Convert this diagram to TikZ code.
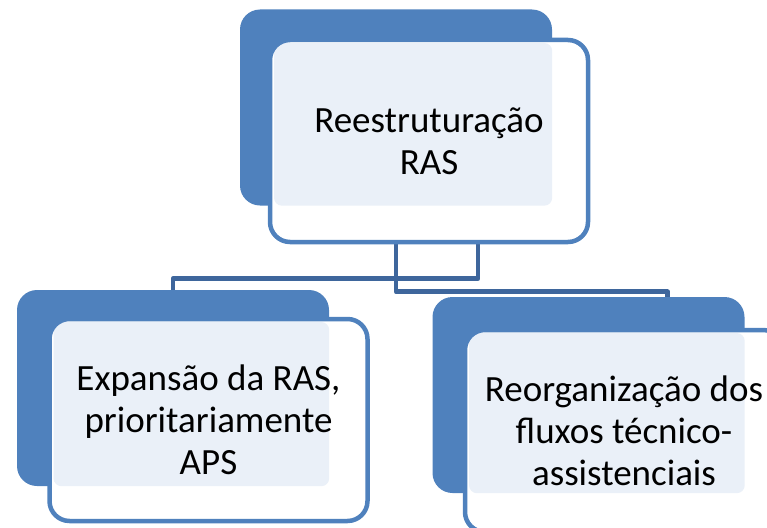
\documentclass[tikz,border=0pt]{standalone}
\usepackage{fontspec}
\setmainfont{Carlito}
\definecolor{boxblue}{RGB}{79,129,189}
\definecolor{linkblue}{RGB}{62,102,156}
\definecolor{dotfill}{RGB}{234,240,248}
\tikzset{
  backbox/.style={fill=boxblue, rounded corners=20pt, minimum width=312pt, minimum height=196pt, inner sep=0pt},
  frontbox/.style={draw=boxblue, line width=4.5pt, fill=white, rounded corners=20pt,
    minimum width=318pt, minimum height=202pt, inner sep=0pt, align=center,
    font=\fontsize{37}{42}\selectfont,
    path picture={\fill[dotfill, rounded corners=8pt] ([shift={(4pt,-3pt)}]path picture bounding box.north west) rectangle (#1.south east);}},
  link/.style={draw=linkblue, line width=4.5pt, line join=round}
}
\begin{document}
\begin{tikzpicture}[x=1pt, y=-1pt]
			\useasboundingbox (0,0) rectangle (767,527);
			\clip (0,0) rectangle (767,527);
			% back boxes
			\node[backbox] (topback) at (396,107.5) {};
			\node[backbox] (leftback) at (173,388) {};
			\node[backbox] (rightback) at (588.5,395) {};
			% connectors
			\draw[link] ([xshift=82pt]topback.south) -- ++(0,73) -| (leftback.north);
			\draw[link] (topback.south) -- ++(0,86) -| ([xshift=79pt]rightback.north);
			% front boxes
			\node[frontbox=topback] (reestr) at (429,141) {Reestruturação\\RAS};
			\node[frontbox=leftback] (expansao) at (208.5,420) {Expansão da RAS,\\prioritariamente\\APS};
			\node[frontbox=rightback] (reorg) at (624,431) {Reorganização dos\\fluxos técnico-\\assistenciais};
		\end{tikzpicture}
\end{document}
